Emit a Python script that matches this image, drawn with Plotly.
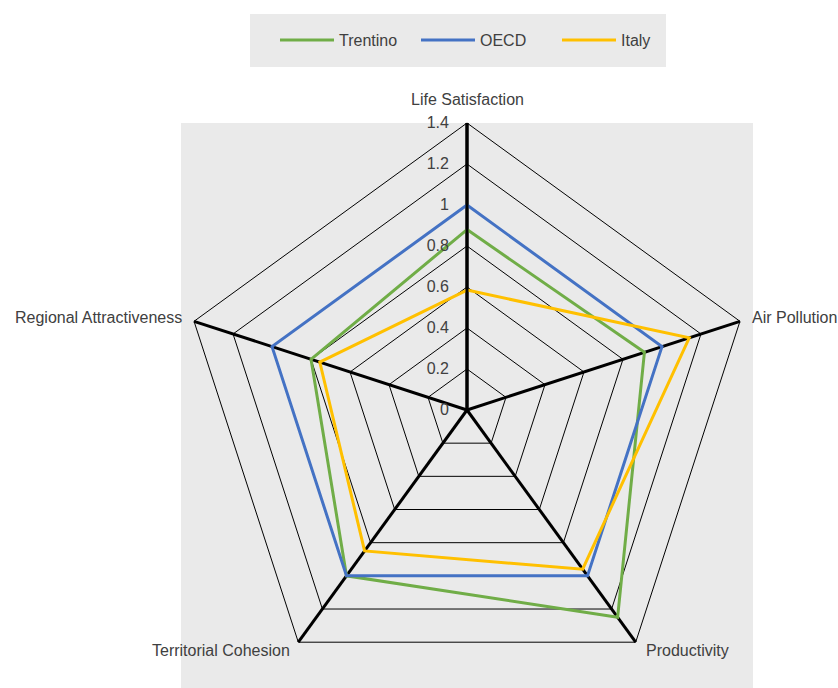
import plotly.graph_objects as go

# Indicator axes, clockwise from the top
indicators = ["Life Satisfaction", "Air Pollution", "Productivity",
              "Territorial Cohesion", "Regional Attractiveness"]

# Normalised scores (OECD = 1)
trentino = [0.88, 0.91, 1.25, 1.0, 0.80]
oecd = [1.0, 1.0, 1.0, 1.0, 1.0]
italy = [0.585, 1.14, 0.96, 0.85, 0.755]

series_names = ["Trentino", "OECD", "Italy"]
series_values = [trentino, oecd, italy]
series_colors = ["#70AD47", "#4472C4", "#FFC000"]

radial_ticks = [0, 0.2, 0.4, 0.6, 0.8, 1.0, 1.2, 1.4]

W, H = 838, 700
FONT = "Liberation Sans, Arial, sans-serif"
FS = 16
TXT = "#404040"
BG = "#EAEAEA"

fig = go.Figure()
for name, vals, col in zip(series_names, series_values, series_colors):
    fig.add_trace(go.Scatterpolar(
        r=vals + vals[:1],
        theta=indicators + indicators[:1],
        mode="lines",
        name=name,
        line=dict(color=col, width=3),
        hoverinfo="skip",
    ))

# centre of the radar and its outer radius, in pixels
cx, cy, rad = 467, 410, 287

# category label placement: (x px, y px, horizontal anchor)
label_pos = [
    (467, 99, "center"),
    (750, 317, "left"),
    (644, 650, "left"),
    (292, 650, "right"),
    (184, 317, "right"),
]
annotations = [
    dict(text=name, x=x / W, y=1 - y / H, xref="paper", yref="paper",
         xanchor=anchor, yanchor="middle", showarrow=False,
         font=dict(family=FONT, size=FS, color=TXT))
    for name, (x, y, anchor) in zip(indicators, label_pos)
]

fig.update_layout(
    width=W, height=H,
    margin=dict(l=0, r=0, t=0, b=0),
    paper_bgcolor="white",
    font=dict(family=FONT, size=FS, color=TXT),
    polar=dict(
        domain=dict(x=[(cx - rad) / W, (cx + rad) / W],
                    y=[1 - (cy + rad) / H, 1 - (cy - rad) / H]),
        bgcolor=BG,
        gridshape="linear",
        radialaxis=dict(
            range=[0, 1.4],
            tickvals=radial_ticks,
            ticktext=[f"{v:g}" for v in radial_ticks],
            angle=90,
            tickangle=90,
            side="counterclockwise",
            showline=True, linecolor="black", linewidth=3,
            gridcolor="black", gridwidth=1,
            ticks="outside", ticklen=11, tickcolor="rgba(0,0,0,0)",
            tickfont=dict(family=FONT, size=FS, color=TXT),
            layer="above traces",
        ),
        angularaxis=dict(
            rotation=90,
            direction="clockwise",
            showline=True, linecolor="black", linewidth=1,
            gridcolor="black", gridwidth=3,
            ticks="",
            showticklabels=False,
            layer="above traces",
        ),
    ),
    legend=dict(
        orientation="h",
        x=275 / W, xanchor="left",
        y=1 - 23 / H, yanchor="top",
        bgcolor="rgba(0,0,0,0)",
        entrywidth=72,
        itemwidth=54,
        font=dict(family=FONT, size=FS, color=TXT),
    ),
    annotations=annotations,
    shapes=[
        # plot-area background
        dict(type="rect", xref="paper", yref="paper", layer="below",
             x0=181 / W, x1=753 / W, y0=-0.05, y1=1 - 123 / H,
             fillcolor=BG, line=dict(width=0)),
        # legend box
        dict(type="rect", xref="paper", yref="paper", layer="below",
             x0=250 / W, x1=666 / W, y0=1 - 67 / H, y1=1 - 14 / H,
             fillcolor=BG, line=dict(width=0)),
    ],
)

fig.write_html(
    "out.html",
    post_script="document.documentElement.style.overflow='hidden';"
                "document.body.style.overflow='hidden';"
                "document.body.style.margin='0';",
)
